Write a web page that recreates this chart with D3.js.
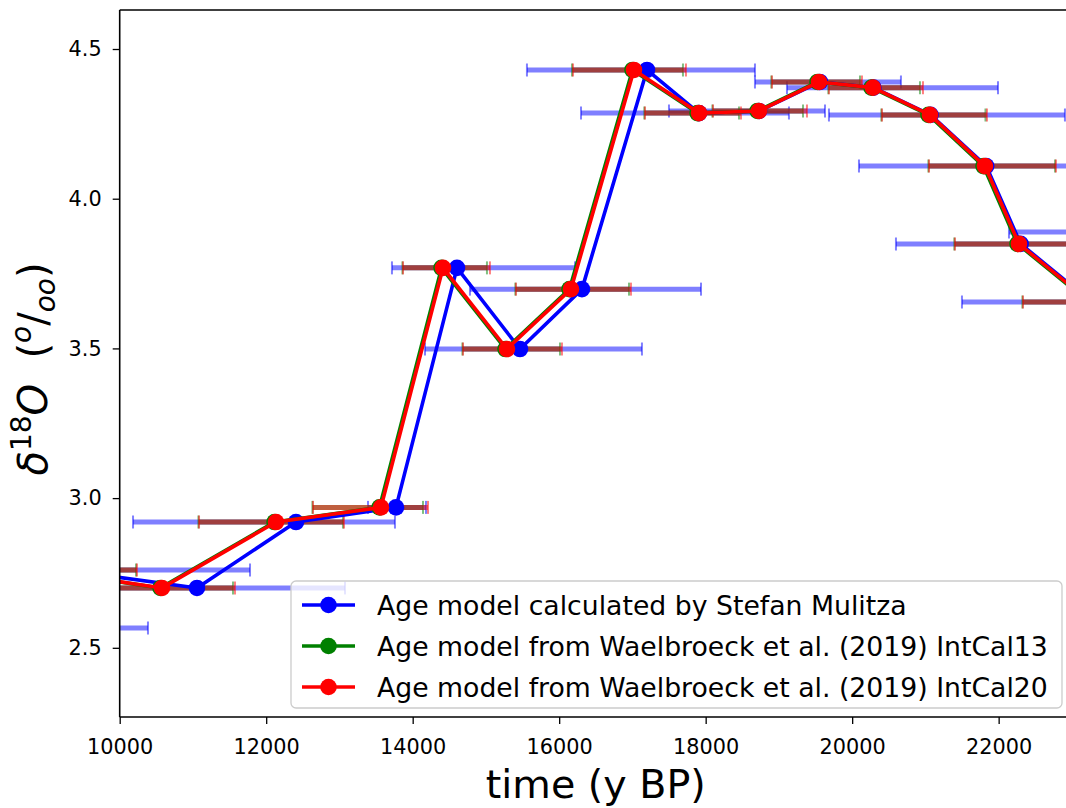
<!DOCTYPE html>
<html><head><meta charset="utf-8">
<script src="https://cdn.jsdelivr.net/npm/d3@7"></script>
<style>
body{margin:0;background:#fff}
svg{display:block;font-family:"DejaVu Sans",sans-serif}
</style>
</head><body>
<svg id="chart" width="1066" height="808"></svg>
<script>
// ---------- data ----------
const d18O = [2.566, 2.76, 2.70, 2.92, 2.969, 3.769, 3.498, 3.698, 4.43, 4.286, 4.293, 4.39, 4.371, 4.28, 4.109, 3.849, 3.655, 3.889];

// Age model calculated by Stefan Mulitza
const mulitzaAge = [8600, 9240, 11055, 12407, 13772, 14605, 15465, 16311, 17199, 17909, 18728, 19560, 20290, 21070, 21830, 22300, 23270, 23900];
const mulitzaLo  = [6800, 6700, 9037, 10182, 13390, 13717, 14168, 14782, 15560, 16298, 17499, 18673, 19110, 19683, 20093, 20598, 21499, 22141];
const mulitzaHi  = [10386, 11779, 13076, 13758, 14182, 16216, 17130, 17936, 18673, 19137, 19629, 20666, 21991, 22905, 23560, 24000, 25000, 25600];

// Waelbroeck et al. (2019) IntCal13
const ic13Age = [8180, 8880, 10557, 12114, 13547, 14394, 15267, 16141, 17001, 17889, 18708, 19527, 20264, 21042, 21793, 22257, 23230, 23930];
const ic13Lo  = [7490, 7590, 9590, 11075, 12631, 13860, 14679, 15402, 16175, 17163, 18092, 18897, 19675, 20399, 21041, 21395, 22324, 23090];
const ic13Hi  = [9080, 10223, 11547, 13048, 14141, 15014, 16011, 16953, 17690, 18455, 19329, 20107, 20926, 21820, 22770, 23130, 24130, 24780];

// Waelbroeck et al. (2019) IntCal20
const ic20Age = [8200, 8900, 10577, 12134, 13567, 14414, 15287, 16161, 17021, 17909, 18728, 19547, 20284, 21062, 21813, 22277, 23250, 23950];
const ic20Lo  = [7500, 7600, 9600, 11083, 12639, 13868, 14687, 15410, 16189, 17171, 18100, 18905, 19683, 20407, 21049, 21403, 22332, 23100];
const ic20Hi  = [9100, 10236, 11574, 13062, 14209, 15055, 16038, 16980, 17731, 18482, 19383, 20134, 20967, 21840, 22782, 23150, 24150, 24800];

const seriesNames = [
  "Age model calculated by Stefan Mulitza",
  "Age model from Waelbroeck et al. (2019) IntCal13",
  "Age model from Waelbroeck et al. (2019) IntCal20"
];
const seriesColors = ["#0000ff", "#008000", "#ff0000"];
const xTicks = [10000, 12000, 14000, 16000, 18000, 20000, 22000];
const yTicks = [2.5, 3.0, 3.5, 4.0, 4.5];
const xDomain = [10000, 23000];
const yDomain = [2.2689, 4.6303];

// ---------- build ----------
const series = [
  {age: mulitzaAge, lo: mulitzaLo, hi: mulitzaHi},
  {age: ic13Age, lo: ic13Lo, hi: ic13Hi},
  {age: ic20Age, lo: ic20Lo, hi: ic20Hi}
].map((s, k) => ({
  name: seriesNames[k], color: seriesColors[k],
  pts: d18O.map((v, i) => ({x: s.age[i], lo: s.lo[i], hi: s.hi[i], y: v}))
}));

const svg = d3.select("#chart");
const L = 119.7, R = 1071.9, T = 10, B = 717;
const x = d3.scaleLinear().domain(xDomain).range([L, R]);
const y = d3.scaleLinear().domain(yDomain).range([B, T]);

svg.append("defs").append("clipPath").attr("id", "plotclip")
  .append("rect").attr("x", L).attr("y", T).attr("width", R - L).attr("height", B - T);

const plot = svg.append("g").attr("clip-path", "url(#plotclip)");

// error bars first
series.forEach(s => {
  const g = plot.append("g");
  g.selectAll("line.bar").data(s.pts).join("line")
    .attr("x1", d => x(d.lo)).attr("x2", d => x(d.hi))
    .attr("y1", d => y(d.y)).attr("y2", d => y(d.y))
    .attr("stroke", s.color).attr("stroke-opacity", 0.5).attr("stroke-width", 5);
  ["lo", "hi"].forEach(key => {
    g.selectAll("line.cap" + key).data(s.pts).join("line")
      .attr("x1", d => x(d[key])).attr("x2", d => x(d[key]))
      .attr("y1", d => y(d.y) - 6.5).attr("y2", d => y(d.y) + 6.5)
      .attr("stroke", s.color).attr("stroke-opacity", 0.5).attr("stroke-width", 2);
  });
});

// lines + markers
const lineGen = d3.line().x(d => x(d.x)).y(d => y(d.y));
series.forEach(s => {
  plot.append("path").datum(s.pts).attr("d", lineGen)
    .attr("fill", "none").attr("stroke", s.color).attr("stroke-width", 3.6)
    .attr("stroke-linejoin", "round");
  plot.append("g").selectAll("circle").data(s.pts).join("circle")
    .attr("cx", d => x(d.x)).attr("cy", d => y(d.y)).attr("r", 8.3)
    .attr("fill", s.color);
});

// axes
const ax = svg.append("g").attr("transform", `translate(0,${B})`)
  .call(d3.axisBottom(x).tickValues(xTicks).tickFormat(d => String(d)).tickSize(7).tickSizeOuter(0).tickPadding(15));
const ay = svg.append("g").attr("transform", `translate(${L},0)`)
  .call(d3.axisLeft(y).tickValues(yTicks).tickFormat(d3.format(".1f")).tickSize(7).tickSizeOuter(0).tickPadding(11));
[ax, ay].forEach(a => {
  a.select(".domain").remove();
  a.selectAll(".tick line").attr("stroke", "#000").attr("stroke-width", 1.3);
  a.selectAll(".tick text").attr("fill", "#000").style("font-size", "20.8px").style("font-family", "DejaVu Sans");
});

// spines
svg.append("line").attr("x1", L).attr("x2", L).attr("y1", T).attr("y2", B).attr("stroke", "#000").attr("stroke-width", 1.6);
svg.append("line").attr("x1", L).attr("x2", R).attr("y1", B).attr("y2", B).attr("stroke", "#000").attr("stroke-width", 1.6);
svg.append("line").attr("x1", L).attr("x2", R).attr("y1", T).attr("y2", T).attr("stroke", "#000").attr("stroke-width", 1.6);
svg.append("line").attr("x1", R).attr("x2", R).attr("y1", T).attr("y2", B).attr("stroke", "#000").attr("stroke-width", 1.6);

// axis labels
svg.append("text").attr("x", (L + R) / 2).attr("y", 798).attr("text-anchor", "middle")
  .style("font-size", "39.6px").text("time (y BP)");

const yl = svg.append("text").attr("transform", "translate(47,369) rotate(-90)")
  .attr("text-anchor", "middle").style("font-size", "40px").style("white-space", "pre");
yl.append("tspan").style("font-style", "italic").text("δ");
yl.append("tspan").attr("dy", -16).style("font-size", "28px").text("18");
yl.append("tspan").attr("dy", 16).style("font-style", "italic").text("O");
yl.append("tspan").text("  (");
yl.append("tspan").attr("dy", -16).style("font-size", "28px").style("font-style", "italic").text("o");
yl.append("tspan").attr("dy", 16).text("/");
yl.append("tspan").attr("dy", 8).style("font-size", "28px").style("font-style", "italic").text("oo");
yl.append("tspan").attr("dy", -8).text(")");

// legend
const lg = svg.append("g");
lg.append("rect").attr("x", 291).attr("y", 581).attr("width", 771).attr("height", 127).attr("rx", 5)
  .attr("fill", "#fff").attr("fill-opacity", 0.8).attr("stroke", "#cccccc").attr("stroke-width", 1.3);
const rowY = [605, 646, 687];
series.forEach((s, k) => {
  const gy = rowY[k];
  lg.append("line").attr("x1", 302).attr("x2", 355).attr("y1", gy).attr("y2", gy)
    .attr("stroke", s.color).attr("stroke-width", 3.6);
  lg.append("circle").attr("cx", 328.5).attr("cy", gy).attr("r", 8.3).attr("fill", s.color);
  lg.append("text").attr("x", 377).attr("y", gy + 9.7).style("font-size", "26.7px").text(s.name);
});
</script>
</body></html>
